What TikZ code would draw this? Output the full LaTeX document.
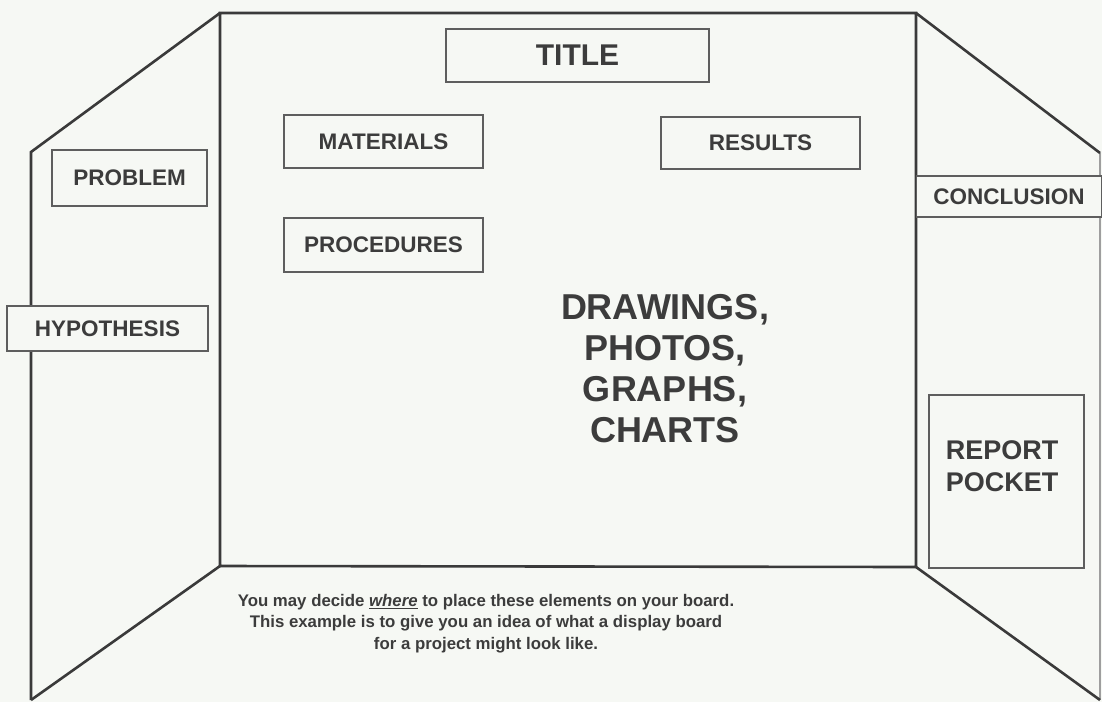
\documentclass[tikz,border=0pt]{standalone}
\usepackage{fontspec}
\setmainfont{Liberation Sans}
\definecolor{bg}{HTML}{F6F8F4}
\definecolor{panel}{HTML}{3A3A3A}
\definecolor{boxline}{HTML}{5E5E5E}
\definecolor{ink}{HTML}{3C3C3C}
\begin{document}
\begin{tikzpicture}[x=1pt,y=-1pt,
  panelline/.style={draw=panel,line width=2.6pt,line join=miter},
  labelbox/.style={draw=boxline,fill=bg,line width=1.6pt,inner sep=0pt,text=ink,font=\bfseries\fontsize{22.5}{26}\selectfont},
  bigtext/.style={text=ink,font=\bfseries\fontsize{36}{41}\selectfont,align=center,inner sep=0pt},
  note/.style={text=ink,font=\bfseries\fontsize{16.8}{21.5}\selectfont,align=center,inner sep=0pt}]
\fill[bg] (0,0) rectangle (1102,702);
\useasboundingbox (0,0) rectangle (1102,702);
% panel corners
\coordinate (ctl) at (220,13);
\coordinate (ctr) at (916,13);
\coordinate (cbl) at (220,566);
\coordinate (cbr) at (916,567);
\coordinate (ltop) at (31,152);
\coordinate (lbot) at (31,700);
\coordinate (rtop) at (1100,153);
\coordinate (rbot) at (1100,700);
% right panel outer edge (faint)
\draw[draw=boxline!60,line width=1.2pt] (rtop) -- (rbot);
% boards
\draw[panelline] (ctl) -- (ctr) -- (cbr) -- (cbl) -- cycle;
\draw[panelline] (ctl) -- (ltop) -- (lbot);
\draw[panelline] (lbot) -- (cbl);
\draw[panelline] (ctr) -- (rtop);
\draw[panelline] (cbr) -- (rbot);
% label boxes
\node[labelbox,minimum width=263pt,minimum height=53pt,font=\bfseries\fontsize{30}{34}\selectfont] (title) at (577.5,55.5) {TITLE};
\node[labelbox,minimum width=199pt,minimum height=53pt] (materials) at (383.5,141.5) {MATERIALS};
\node[labelbox,minimum width=199pt,minimum height=54pt] (procedures) at (383.5,245) {PROCEDURES};
\node[labelbox,minimum width=199pt,minimum height=52pt] (results) at (760.5,143) {RESULTS};
\node[labelbox,minimum width=155pt,minimum height=56pt] (problem) at (129.5,178) {PROBLEM};
\node[labelbox,minimum width=201pt,minimum height=45pt] (hypothesis) at (107.5,328.5) {HYPOTHESIS};
\node[labelbox,minimum width=185pt,minimum height=41pt] (conclusion) at (1009,196.5) {CONCLUSION};
\node[labelbox,minimum width=155pt,minimum height=173pt] (pocket) at (1006.5,481.5) {};
\node[text=ink,font=\bfseries\fontsize{27}{32}\selectfont,align=center,inner sep=0pt] (pockettext) at (1002,466) {REPORT\\POCKET};
% central text
\node[bigtext] (media) at (665,368.5) {DRAWINGS,\\PHOTOS,\\GRAPHS,\\CHARTS};
% note
\node[note] (notetext) at (486,623.5) {You may decide \underline{\itshape where} to place these elements on your board.\\This example is to give you an idea of what a display board\\for a project might look like.};
\end{tikzpicture}
\end{document}
